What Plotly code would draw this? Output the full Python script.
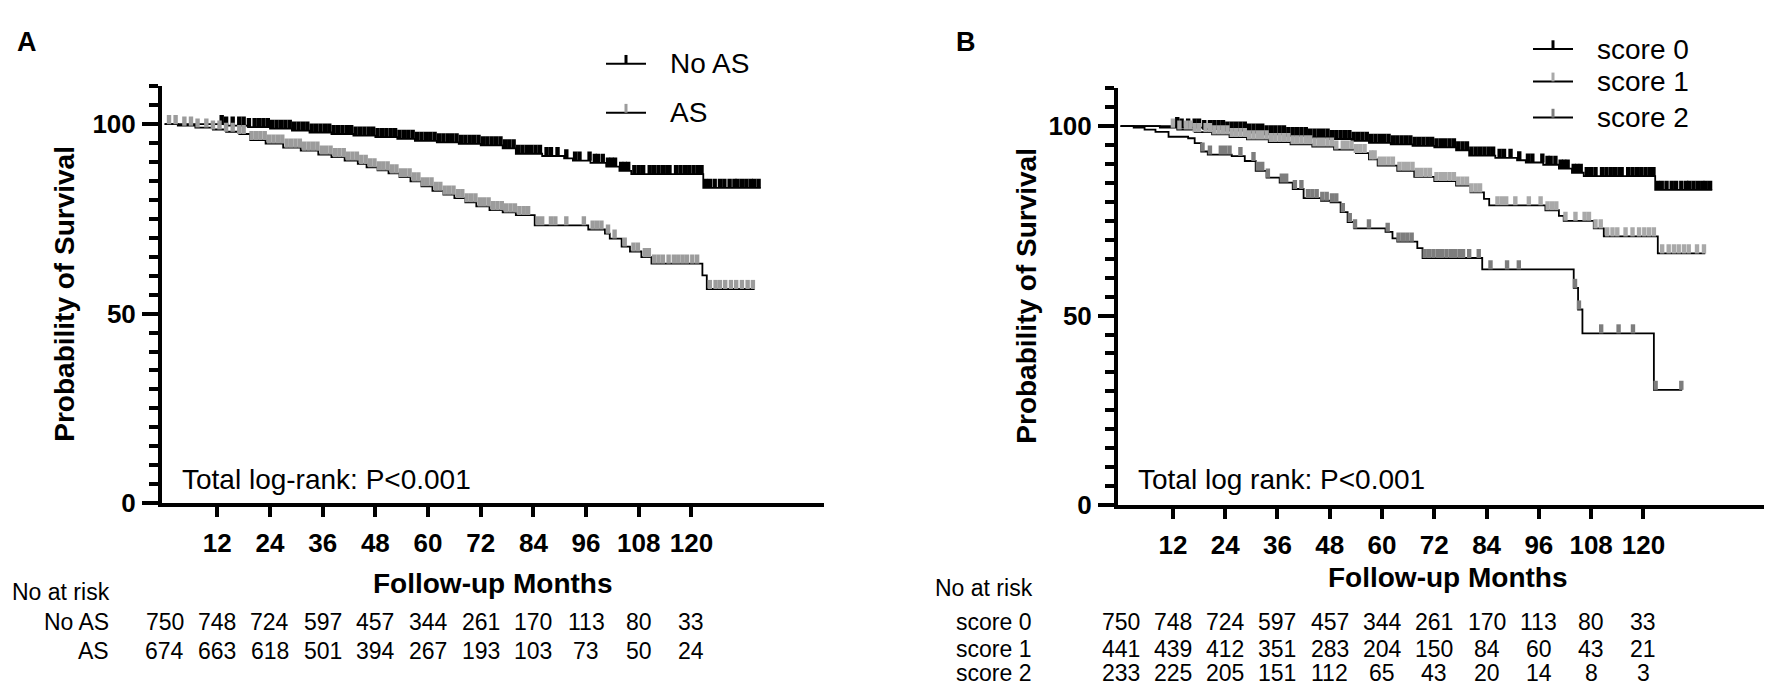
import numpy as np
import plotly.graph_objects as go

# --- DADOS ---
# Kaplan-Meier: instantes dos degraus (meses) e sobrevida (%) depois de cada degrau
NO_AS_T = [0, 14, 19, 24, 29, 33, 38, 43, 48, 53, 57, 62, 67, 72, 77, 80, 86, 91, 93, 97,
           100.6, 103.6, 106.3, 122.7]
NO_AS_S = [100, 99.6, 99.2, 98.8, 98.3, 97.8, 97.4, 97.0, 96.6, 96.1, 95.6, 95.2, 94.8, 94.4,
           93.6, 92.2, 91.6, 91.0, 90.4, 89.8, 88.8, 87.7, 86.8, 83.2]
NO_AS_END = 135.8
NO_AS_CENS = [13, 14, 15.5, 17, 18, 19.2, 20.5, 21.5, 22.5, 23.5, 24.5, 25.5, 26.5, 27.5, 28.5,
              29.5, 30.5, 31.5, 32.5, 33.5, 34.5, 35.5, 36.5, 37.5, 38.5, 39.5, 40.5, 41.5,
              42.5, 43.5, 44.5, 45.5, 46.5, 47.5, 48.5, 49.5, 50.5, 51.5, 52.5, 53.5, 54.5,
              55.5, 56.5, 57.5, 58.5, 59.5, 60.5, 61.5, 62.5, 63.5, 64.5, 65.5, 66.5, 67.5,
              68.5, 69.5, 70.5, 71.5, 72.5, 73.5, 74.5, 75.5, 76.5, 77.5, 78.5, 79.5, 80.5,
              81.5, 82.5, 83.5, 84.5, 85.5, 87, 88, 89.5, 91.5, 93.5, 94.5, 96.8, 98, 98.7,
              99.8, 101, 101.8, 102.6, 104, 104.8, 105.6, 107, 108, 109, 110.5, 111.5, 112.5,
              113.5, 114.5, 115, 116.5, 117.5, 118.5, 119.5, 120.5, 121.5, 122.3, 123.3,
              124.2, 125.3, 126.5, 127.5, 128.7, 129.8, 130.5, 131.5, 132.5, 133.5, 134.3,
              135.3]

AS_T = [0, 3, 7, 11, 14, 17, 19.5, 23, 27, 31, 35, 38, 41, 44, 46, 48.5, 51, 53.5, 56, 58.5,
        61, 63.5, 66, 68.5, 71, 74, 77, 80, 84.3, 96.5, 100.3, 101.4, 104.1, 106, 108.6,
        110.9, 122.5, 123.5]
AS_S = [100, 99.6, 99.1, 98.6, 98.0, 97.4, 95.8, 94.9, 93.8, 93.0, 92.0, 91.3, 90.4, 89.5,
        88.6, 87.8, 87.0, 86.0, 84.9, 83.6, 82.4, 81.4, 80.5, 79.4, 78.3, 77.3, 76.7, 76.0,
        73.3, 72.2, 71.1, 69.8, 67.7, 66.4, 64.9, 63.2, 60.1, 56.5]
AS_END = 134.4
AS_CENS = [1, 2.5, 4.5, 6, 7.5, 9.5, 11, 12.5, 14, 15.5, 17, 18, 19.8, 20.8, 21.8, 22.8, 23.8,
           24.8, 25.8, 26.8, 27.8, 28.8, 29.8, 30.8, 31.8, 32.8, 33.8, 34.8, 35.8, 36.8, 37.8,
           38.8, 39.8, 40.8, 41.8, 42.8, 43.8, 44.8, 45.8, 46.8, 47.8, 48.8, 49.8, 50.8, 51.8,
           52.8, 53.8, 54.8, 55.8, 56.8, 57.8, 58.8, 59.8, 60.8, 61.8, 62.8, 63.8, 64.8, 65.8,
           66.8, 67.8, 68.8, 69.8, 70.8, 71.8, 72.8, 73.8, 74.8, 75.8, 76.8, 77.8, 78.8, 79.8,
           80.8, 81.8, 82.8, 85, 86, 88, 89, 91.5, 95.5, 97.5, 98.5, 99.5, 101, 102.5, 104.8,
           106.8, 107.8, 109.4, 110.3, 111.5, 112.5, 113.5, 114.8, 116, 117, 118, 119, 120.2,
           121.3, 124.2, 125.5, 126.5, 127.7, 129, 130.2, 131.5, 132.8, 134]

# score 0 = mesmo grupo que "No AS"
S1_T = [0, 9, 13, 17, 21, 25, 29, 34, 39, 44, 49, 54, 57, 59, 63.5, 67.4, 72, 77, 80.3, 83.4,
        84.6, 97.5, 100.6, 101.7, 108.6, 110.9, 123.3]
S1_S = [100, 99.6, 99.1, 98.4, 97.8, 97.1, 96.5, 95.8, 95.2, 94.6, 93.8, 92.9, 91.2, 89.6,
        88.2, 86.6, 85.5, 84.3, 82.5, 80.8, 79.1, 77.8, 76.3, 75.0, 73.0, 70.9, 66.4]
S1_END = 134.2
S1_CENS = [12, 13.5, 15, 16, 17, 18, 19.5, 20.5, 21.5, 22.5, 23.5, 24.5, 25.5, 26.5, 27.5,
           28.5, 29.5, 30.5, 31.5, 32.5, 33.5, 34.5, 35.5, 36.5, 37.5, 38.5, 39.5, 40.5,
           41.5, 42.5, 43.5, 44.5, 45.5, 46.5, 47.5, 48.5, 49.5, 51, 52, 53, 54, 55, 56, 57.5,
           58.3, 59.5, 60.5, 61.5, 62.5, 64, 65, 66, 67, 68, 69, 70, 71, 72.5, 73.5, 74.5,
           75.5, 76.5, 77.5, 78.5, 79.5, 80.5, 81.5, 82.5, 86.5, 87.5, 88.5, 90.6, 93.7, 96.4,
           98, 99, 100, 102.1, 104.4, 106.5, 107.5, 109, 110.2, 111.7, 112.9, 114, 115.9,
           117.5, 119, 120.2, 121.3, 122.4, 124.3, 125.8, 127, 128.1, 129.3, 130.4, 132.3,
           133.9]

S2_T = [0, 3, 5.5, 8, 11, 15.5, 17, 18.5, 20, 25.5, 28.5, 31, 33.5, 36.5, 39.5, 42, 46, 48.2,
        50.5, 52.1, 53.6, 60.8, 62.4, 63.5, 68.1, 69.3, 83, 104, 105, 106, 122.4]
S2_S = [100, 99.6, 99.1, 98.5, 97.2, 96.8, 95.5, 93.3, 92.5, 92.1, 90.8, 88.2, 86.4, 85.1,
        83.4, 81.0, 80.3, 79.9, 77.3, 74.7, 73.0, 72.1, 70.4, 69.5, 67.8, 65.2, 62.2, 57.3,
        51.6, 45.3, 30.4]
S2_END = 128.9
S2_CENS = [18.8, 20.5, 23, 24, 25, 27.5, 30.5, 31.5, 32.5, 33.8, 37, 38, 40, 41.5, 43, 44,
           45, 46.3, 47.3, 48.5, 49.5, 51, 52.6, 53.8, 57, 61.3, 63.8, 64.8, 65.8, 66.8,
           69.8, 70.8, 71.8, 72.8, 73.8, 74.8, 75.8, 76.8, 77.8, 78.6, 80, 82.2, 84.9, 88.7,
           91.4, 104.3, 105.2, 110.3, 114.3, 117.6, 122.8, 128.7]

# Tabela "No at risk"
RISK_MONTHS = [0, 12, 24, 36, 48, 60, 72, 84, 96, 108, 120]
RISK_NO_AS = [750, 748, 724, 597, 457, 344, 261, 170, 113, 80, 33]
RISK_AS = [674, 663, 618, 501, 394, 267, 193, 103, 73, 50, 24]
RISK_S0 = [750, 748, 724, 597, 457, 344, 261, 170, 113, 80, 33]
RISK_S1 = [441, 439, 412, 351, 283, 204, 150, 84, 60, 43, 21]
RISK_S2 = [233, 225, 205, 151, 112, 65, 43, 20, 14, 8, 3]

X_TICKS = [12, 24, 36, 48, 60, 72, 84, 96, 108, 120]

# --- ESTILO ---
W, H = 1772, 696
FONT = "Arial, 'Liberation Sans', sans-serif"
BLACK = "#000000"
GRAY_AS = "#9c9c9c"
GRAY_S1 = "#a9a9a9"
GRAY_S2 = "#7d7d7d"


def px(x):
    return x / W


def py(y):
    return 1 - y / H


def censor_ticks(times, surv, cens, height=2.4):
    xs, ys = [], []
    for c in cens:
        i = int(np.searchsorted(times, c, side="right")) - 1
        xs += [c, c, None]
        ys += [surv[i], surv[i] + height, None]
    return xs, ys


def add_curve(fig, times, surv, end, cens, tick_color, xa, ya):
    fig.add_trace(go.Scatter(x=list(times) + [end], y=list(surv) + [surv[-1]],
                             mode="lines", line=dict(color=BLACK, width=1.8, shape="hv"),
                             xaxis=xa, yaxis=ya, hoverinfo="skip"))
    cx, cy = censor_ticks(times, surv, cens)
    fig.add_trace(go.Scatter(x=cx, y=cy, mode="lines", line=dict(color=tick_color, width=4.4),
                             xaxis=xa, yaxis=ya, hoverinfo="skip"))


def text(fig, s, x, y, size, bold=False, xanchor="center", xref="paper", angle=0):
    fig.add_annotation(text=s, x=x if xref != "paper" else px(x), y=py(y), xref=xref,
                       yref="paper", showarrow=False, xanchor=xanchor, yanchor="middle",
                       textangle=angle,
                       font=dict(family=FONT, size=size, color=BLACK,
                                 weight="bold" if bold else "normal"))


def legend_item(fig, x0, y, label, tick_color):
    fig.add_shape(type="line", xref="paper", yref="paper", x0=px(x0), x1=px(x0 + 40),
                  y0=py(y), y1=py(y), line=dict(color=BLACK, width=2))
    fig.add_shape(type="line", xref="paper", yref="paper", x0=px(x0 + 20), x1=px(x0 + 20),
                  y0=py(y), y1=py(y - 9), line=dict(color=tick_color, width=3))
    text(fig, label, x0 + 62, y, 28, xanchor="left")


fig = go.Figure()

# Painel A
add_curve(fig, NO_AS_T, NO_AS_S, NO_AS_END, NO_AS_CENS, BLACK, "x", "y")
add_curve(fig, AS_T, AS_S, AS_END, AS_CENS, GRAY_AS, "x", "y")

# Painel B
add_curve(fig, NO_AS_T, NO_AS_S, NO_AS_END, NO_AS_CENS, BLACK, "x2", "y2")
add_curve(fig, S1_T, S1_S, S1_END, S1_CENS, GRAY_S1, "x2", "y2")
add_curve(fig, S2_T, S2_S, S2_END, S2_CENS, GRAY_S2, "x2", "y2")

xaxis_style = dict(range=[-0.6, 150.2], showline=True, linewidth=4, linecolor=BLACK,
                   ticks="outside", ticklen=10, tickwidth=4, tickcolor=BLACK,
                   tickmode="array", tickvals=X_TICKS, ticklabelstandoff=4,
                   tickfont=dict(family=FONT, size=26, color=BLACK, weight="bold"),
                   showgrid=False, zeroline=False, fixedrange=True)
yaxis_style = dict(range=[0, 110], showline=True, linewidth=4, linecolor=BLACK,
                   ticks="outside", ticklen=16, tickwidth=4, tickcolor=BLACK,
                   tickmode="linear", tick0=0, dtick=50, ticklabelstandoff=1,
                   minor=dict(tickmode="linear", tick0=0, dtick=5, ticks="outside",
                              ticklen=9, tickwidth=4, tickcolor=BLACK),
                   tickfont=dict(family=FONT, size=26, color=BLACK, weight="bold"),
                   showgrid=False, zeroline=False, fixedrange=True)

fig.update_layout(
    width=W, height=H, margin=dict(l=0, r=0, t=0, b=0),
    plot_bgcolor="white", paper_bgcolor="white", showlegend=False,
    xaxis=dict(domain=[px(154), px(816)], anchor="y", **xaxis_style),
    yaxis=dict(domain=[py(506), py(80)], anchor="x", **yaxis_style),
    xaxis2=dict(domain=[px(1110), px(1767)], anchor="y2", **xaxis_style),
    yaxis2=dict(domain=[py(508), py(82)], anchor="x2", **yaxis_style),
)

# --- TEXTOS ---
text(fig, "A", 19, 35, 27, bold=True)
text(fig, "B", 958, 35, 27, bold=True)
text(fig, "Probability of Survival", 57, 292, 28, bold=True, angle=-90)
text(fig, "Probability of Survival", 1019, 294, 28, bold=True, angle=-90)
text(fig, "Total log-rank: P<0.001", 172, 482, 28, xanchor="left")
text(fig, "Total log rank: P<0.001", 1128, 482, 28, xanchor="left")
text(fig, "Follow-up Months", 485, 588, 28, bold=True)
text(fig, "Follow-up Months", 1440, 582, 28, bold=True)

legend_item(fig, 598, 57, "No AS", BLACK)
legend_item(fig, 598, 107, "AS", GRAY_AS)
legend_item(fig, 1525, 42, "score 0", BLACK)
legend_item(fig, 1525, 75, "score 1", GRAY_S1)
legend_item(fig, 1525, 112, "score 2", GRAY_S2)

# Tabela de pacientes em risco
text(fig, "No at risk", 2, 597, 23, xanchor="left")
text(fig, "No at risk", 925, 593, 23, xanchor="left")
rows = [
    ("No AS", RISK_NO_AS, 103, 628, "x"),
    ("AS", RISK_AS, 103, 657, "x"),
    ("score 0", RISK_S0, 1025, 628, "x2"),
    ("score 1", RISK_S1, 1025, 655, "x2"),
    ("score 2", RISK_S2, 1025, 680, "x2"),
]
for label, values, label_x, row_y, xref in rows:
    text(fig, label, label_x, row_y, 23, xanchor="right")
    for m, v in zip(RISK_MONTHS, values):
        text(fig, str(v), m, row_y, 23, xref=xref)

fig.write_html("out.html")
